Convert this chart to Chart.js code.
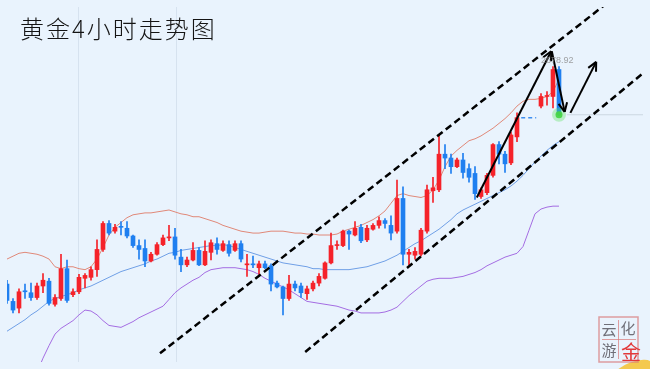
<!DOCTYPE html>
<html>
<head>
<meta charset="utf-8">
<script src="https://cdn.jsdelivr.net/npm/chart.js@4.4.1/dist/chart.umd.min.js"></script>
<style>
  html, body { margin: 0; padding: 0; background: #e9f3fd; }
  #wrap { width: 650px; height: 369px; position: relative; }
</style>
</head>
<body>
<div id="wrap"><canvas id="myChart" width="650" height="369"></canvas></div>
<script>
// 4h gold candles, oldest first. null = bars hidden behind the price marker.
const opens = [2566, 2557, 2553.5, 2562.5, 2561.5, 2559, 2565, 2567.5, 2555.5, 2558.5,
  2574, 2560.5, 2562, 2569, 2569.5, 2573.5, 2584, 2597.5, 2593.5, 2596,
  2595, 2591, 2586, 2584.5, 2578, 2581.5, 2586.5, 2590, 2590.5, 2580,
  2576, 2578.5, 2583.5, 2576, 2582.5, 2587, 2583.5, 2586.5, 2583.5, 2587,
  2576, 2576.5, 2574.5, 2576.5, 2575.5, 2566.5, 2564.5, 2558.5, 2566, 2565,
  2561, 2563.5, 2566.5, 2569, 2577, 2586, 2586, 2593.5, 2591.5, 2595.5,
  2589, 2594.5, 2596.5, 2599, 2596.5, 2593.5, 2610.5, 2581.5, 2581, 2581.5,
  2593.5, 2614.5, 2615, 2633.5, 2631.5, 2627, 2630.5, 2626, 2623.5, 2611.5,
  2613.5, 2622.5, 2638.5, 2633.5, 2629, 2642.5, null, null, null, 2658.5,
  2663.5, 2663.5, 2677.5];
const highs = [2568, 2558.5, 2563.5, 2566, 2566.5, 2566.5, 2571.5, 2569, 2560.5, 2581.5,
  2578.5, 2563.5, 2571, 2571.5, 2575, 2589, 2598.5, 2599, 2597, 2598.5,
  2598.5, 2591.5, 2589, 2589, 2582.5, 2587.5, 2591.5, 2596.5, 2595, 2584,
  2580, 2587.5, 2585, 2588.5, 2589, 2590, 2588.5, 2588.5, 2588.5, 2588.5,
  2581.5, 2580.5, 2578, 2578, 2576.5, 2567.5, 2565, 2570.5, 2567.5, 2566.5,
  2565, 2567.5, 2571.5, 2577.5, 2592.5, 2588.5, 2594, 2594, 2598.5, 2597,
  2596.5, 2597.5, 2601, 2600, 2601.5, 2620, 2616.5, 2584, 2585, 2595,
  2617.5, 2621.5, 2643.5, 2638.5, 2633.5, 2631.5, 2634, 2628.5, 2627, 2616,
  2623.5, 2639, 2640, 2635, 2645, 2655, null, null, null, 2665,
  2666, 2679, 2679];
const lows = [2556, 2551, 2551, 2558.5, 2557.5, 2558, 2561.5, 2555, 2554.5, 2557.5,
  2556.5, 2559.5, 2561, 2564, 2568, 2570, 2583, 2591.5, 2592.5, 2591.5,
  2590, 2585, 2579, 2575, 2577.5, 2581, 2586, 2588.5, 2579, 2572.5,
  2575, 2578, 2575.5, 2575.5, 2578.5, 2581.5, 2583, 2580.5, 2583, 2577.5,
  2570, 2574.5, 2571, 2574, 2562.5, 2564, 2550, 2557.5, 2562.5, 2559,
  2558, 2562.5, 2565, 2568.5, 2576.5, 2584, 2585.5, 2584, 2591, 2587.5,
  2588, 2594, 2595, 2595, 2589, 2592.5, 2576, 2576, 2579, 2580.5,
  2592.5, 2608.5, 2614, 2626, 2623.5, 2626.5, 2621, 2619, 2610, 2610.5,
  2612.5, 2621.5, 2628.5, 2624, 2628, 2640, null, null, null, 2657.5,
  2659, 2657.5, 2653.5];
const closes = [2557.5, 2552.5, 2562, 2562, 2559, 2565, 2568, 2556, 2559, 2574,
  2557.5, 2562, 2569.5, 2570.5, 2573.5, 2584, 2597.5, 2592.5, 2595.5, 2595.5,
  2591, 2586, 2584, 2578, 2581.5, 2586.5, 2590, 2590.5, 2581, 2576,
  2578.5, 2583.5, 2576, 2583, 2587.5, 2584, 2587, 2582, 2587, 2579,
  2576.5, 2576, 2576.5, 2574.5, 2566, 2564.5, 2558.5, 2566, 2564, 2561.5,
  2563.5, 2566.5, 2570, 2577, 2586, 2586.5, 2593.5, 2592, 2595, 2588.5,
  2595, 2596.5, 2599, 2597.5, 2592.5, 2610.5, 2581.5, 2582.5, 2583, 2594,
  2615, 2616, 2633.5, 2631.5, 2627, 2630.5, 2624, 2621.5, 2613, 2615,
  2622.5, 2638.5, 2633.5, 2628.5, 2643.5, 2652.5, null, null, null, 2663.5,
  2664, 2677.5, 2654];

// Bollinger bands (upper / middle / lower)
const upperBand = [2579, 2580.5, 2582, 2582.5, 2582, 2581.5, 2580.5, 2579, 2575, 2574,
  2575, 2575, 2574, 2573.5, 2575, 2579, 2585, 2591.5, 2595.5, 2598,
  2600.5, 2602, 2602.5, 2603, 2603, 2603.5, 2604, 2604.5, 2603.5, 2602.5,
  2602, 2601, 2601, 2600, 2599, 2598, 2596.5, 2595.5, 2594.5, 2593.5,
  2593, 2592.5, 2592.5, 2593, 2593.5, 2593.5, 2593.5, 2593, 2592.5, 2592.5,
  2592, 2592, 2591.5, 2591.5, 2591.5, 2592, 2593.5, 2594.5, 2595.5, 2596.5,
  2598, 2599.5, 2601.5, 2604, 2608, 2612, 2613, 2612, 2611.5, 2611,
  2612, 2615, 2620, 2627, 2632.5, 2635.5, 2638, 2640.5, 2641.5, 2643,
  2645, 2647, 2649.5, 2652, 2655, 2658.5, 2661, 2662, 2662, 2662.5,
  2663.5, 2666, 2672.5];
const midBand = [2541.5, 2543.5, 2545.5, 2547.5, 2550, 2552, 2554.5, 2557, 2558.5, 2559.5,
  2560.5, 2561.5, 2563, 2564, 2565, 2566.5, 2568, 2569.5, 2571, 2572.5,
  2573.5, 2574.5, 2575.5, 2576.5, 2578, 2579, 2580.5, 2582, 2582.5, 2583.5,
  2584, 2584.5, 2585, 2585.5, 2586, 2586, 2586.5, 2586, 2585, 2584,
  2583, 2582, 2581, 2580, 2579, 2578, 2577, 2576.5, 2576, 2575.5,
  2575, 2574, 2574, 2573.5, 2573.5, 2573.5, 2573.5, 2573.5, 2574, 2574.5,
  2575, 2576, 2577, 2578, 2579.5, 2581, 2583, 2585, 2587, 2588.5,
  2590.5, 2592.5, 2594.5, 2597, 2599.5, 2602.5, 2604.5, 2606, 2607.5, 2609,
  2610.5, 2612, 2613.5, 2615, 2617, 2619.5, 2622.5, 2626, 2629.5, 2632.5,
  2635.5, 2638, 2640];
const lowerBand = [2482.5, 2490, 2497.5, 2505, 2512.5, 2520, 2527.5, 2534, 2540, 2543,
  2545, 2547, 2550, 2552.5, 2552, 2550, 2547, 2544.5, 2544, 2543.5,
  2545, 2546.5, 2548.5, 2550, 2551.5, 2553, 2554.5, 2558, 2561.5, 2564,
  2566, 2568, 2569.5, 2572, 2573.5, 2574, 2574.5, 2574.5, 2574.5, 2574,
  2573.5, 2572.5, 2571, 2569, 2567.5, 2566, 2564.5, 2563, 2561, 2559,
  2557, 2556.5, 2556, 2555.5, 2555, 2554.5, 2553.5, 2552.5, 2552, 2551,
  2551, 2551, 2551, 2551.5, 2552.5, 2554, 2557, 2560, 2562.5, 2565,
  2567.5, 2568.5, 2569, 2569, 2569, 2569.5, 2570, 2571, 2572, 2573.5,
  2575.5, 2577, 2578.5, 2580, 2581, 2582, 2585.5, 2594, 2602.5, 2605,
  2606, 2606.5, 2606.5];

// hand drawn channel and arrows, in [bar index, price]
const channelUpper = [[25.5, 2530], [100, 2712]];
const channelLower = [[49.7, 2530.7], [106, 2675.6]];
const arrowUp1 = [[78.3, 2611], [90.7, 2687]];
const arrowDown = [[90.8, 2687], [92.95, 2655.5]];
const arrowUp2 = [[93.9, 2655], [98.2, 2681.5]];
const priceMarker = [[85.7, 2652.5], [88.2, 2652.5]];
const lastPrice = 2654;
const highLabel = "2678.92";
const gridX = [11.9, 28.2];

const UP = "#f5222a";
const DOWN = "#1f7ff0";

document.addEventListener("DOMContentLoaded", function() {
  const bars = opens.map((o, i) => i).filter(i => opens[i] !== null);
  const isUp = i => closes[i] >= opens[i];
  const candleColor = ctx => (ctx.raw && isUp(ctx.raw.x)) ? UP : DOWN;
  const toPoints = arr => arr.map((v, i) => ({ x: i, y: v }));
  const pairPoints = arr => arr.map(p => ({ x: p[0], y: p[1] }));

  function lineSet(data, color, width, extra) {
    return Object.assign({
      type: "line", data: data, borderColor: color, borderWidth: width,
      pointRadius: 0, tension: 0, fill: false
    }, extra || {});
  }

  const datasets = [
    // green "last price" dot, drawn on top
    { type: "line", data: [{ x: 92, y: lastPrice }], showLine: false, order: 0,
      pointRadius: 7, pointBorderWidth: 0, pointBackgroundColor: "rgba(90,225,90,0.35)" },
    { type: "line", data: [{ x: 92, y: lastPrice }], showLine: false, order: 0,
      pointRadius: 3.5, pointBorderWidth: 0, pointBackgroundColor: "rgba(60,205,60,0.95)" },
    lineSet(pairPoints(arrowUp1), "#000", 2, { order: 1, arrowHead: true }),
    lineSet(pairPoints(arrowDown), "#000", 2, { order: 1, arrowHead: true }),
    lineSet(pairPoints(arrowUp2), "#000", 2, { order: 1, arrowHead: true }),
    lineSet(pairPoints(channelUpper), "#000", 2.5, { order: 1, borderDash: [7, 4] }),
    lineSet(pairPoints(channelLower), "#000", 2.5, { order: 1, borderDash: [7, 4] }),
    // candle bodies and wicks
    { type: "bar", data: bars.map(i => ({ x: i, y: [opens[i], closes[i]] })), order: 2,
      grouped: false, barThickness: 4, minBarLength: 1, backgroundColor: candleColor, borderWidth: 0 },
    { type: "bar", data: bars.map(i => ({ x: i, y: [lows[i], highs[i]] })), order: 3,
      grouped: false, barThickness: 1, backgroundColor: candleColor, borderWidth: 0 },
    lineSet(pairPoints(priceMarker), "#3d8ef0", 1.5, { order: 4, borderDash: [4, 3] }),
    lineSet([{ x: 93.3, y: lastPrice }, { x: 106, y: lastPrice }], "rgba(150,160,175,0.35)", 1, { order: 4 }),
    lineSet(toPoints(upperBand), "#e08878", 1, { order: 5 }),
    lineSet(toPoints(midBand), "#6f9fe6", 1, { order: 5 }),
    lineSet(toPoints(lowerBand), "#a46ce2", 1, { order: 5 })
  ];

  // faint vertical guide lines behind everything
  const gridPlugin = {
    id: "guides",
    beforeDatasetsDraw(chart) {
      const ctx = chart.ctx, xs = chart.scales.x, area = chart.chartArea;
      ctx.save();
      ctx.strokeStyle = "rgba(205,218,232,0.7)";
      ctx.lineWidth = 1;
      gridX.forEach(v => {
        const px = Math.round(xs.getPixelForValue(v)) + 0.5;
        ctx.beginPath();
        ctx.moveTo(px, area.top);
        ctx.lineTo(px, area.bottom);
        ctx.stroke();
      });
      ctx.restore();
    }
  };

  // arrow heads + label for the high
  const markPlugin = {
    id: "marks",
    afterDatasetsDraw(chart) {
      const ctx = chart.ctx;
      ctx.save();
      chart.data.datasets.forEach((ds, k) => {
        if (!ds.arrowHead) return;
        const pts = chart.getDatasetMeta(k).data;
        const a = pts[pts.length - 2], b = pts[pts.length - 1];
        const ang = Math.atan2(b.y - a.y, b.x - a.x);
        ctx.strokeStyle = "#000";
        ctx.lineWidth = 2;
        ctx.beginPath();
        [0.45, -0.45].forEach(d => {
          ctx.moveTo(b.x, b.y);
          ctx.lineTo(b.x - 10 * Math.cos(ang + d), b.y - 10 * Math.sin(ang + d));
        });
        ctx.stroke();
      });
      const xs = chart.scales.x, ys = chart.scales.y;
      ctx.fillStyle = "rgba(140,140,140,0.8)";
      ctx.font = "9px 'Liberation Sans', Arial";
      ctx.textAlign = "center";
      ctx.textBaseline = "bottom";
      ctx.fillText(highLabel, xs.getPixelForValue(91.7), ys.getPixelForValue(highs[92]) - 2);
      ctx.restore();
    }
  };

  // title text and the small stamp in the corner
  const decoPlugin = {
    id: "deco",
    afterDraw(chart) {
      const ctx = chart.ctx;
      ctx.save();
      ctx.fillStyle = "#141414";
      ctx.font = "300 24px 'Noto Sans CJK SC'";
      ctx.textBaseline = "middle";
      ctx.letterSpacing = "2px";
      ctx.fillText("黄金4小时走势图", 20, 29);
      ctx.letterSpacing = "0px";

      ctx.fillStyle = "rgba(245,196,60,0.9)";
      ctx.beginPath();
      ctx.ellipse(633, 370, 20, 8, -0.35, 0, Math.PI * 2);
      ctx.fill();
      ctx.strokeStyle = "rgba(215,120,120,0.7)";
      ctx.lineWidth = 1.5;
      ctx.strokeRect(599, 317, 39, 45);
      ctx.lineWidth = 1;
      ctx.beginPath();
      ctx.moveTo(618.5, 320); ctx.lineTo(618.5, 359);
      ctx.moveTo(602, 339.5); ctx.lineTo(636, 339.5);
      ctx.stroke();
      ctx.textAlign = "center";
      ctx.font = "15px 'Noto Sans CJK SC'";
      ctx.fillStyle = "#6f6f78";
      ctx.fillText("云", 609, 329);
      ctx.fillText("化", 628, 328);
      ctx.fillText("游", 609, 350);
      ctx.fillStyle = "#e2383a";
      ctx.font = "20px 'Noto Sans CJK SC'";
      ctx.fillText("金", 631, 352);
      ctx.restore();
    }
  };

  new Chart(document.getElementById("myChart"), {
    type: "bar",
    data: { datasets: datasets },
    options: {
      responsive: false,
      animation: false,
      layout: { padding: 0 },
      plugins: { legend: { display: false }, tooltip: { enabled: false } },
      scales: {
        x: { type: "linear", min: 0, max: 106, offset: false, display: false },
        y: { min: 2525.5, max: 2710, display: false }
      }
    },
    plugins: [gridPlugin, markPlugin, decoPlugin]
  });
});
</script>
</body>
</html>
